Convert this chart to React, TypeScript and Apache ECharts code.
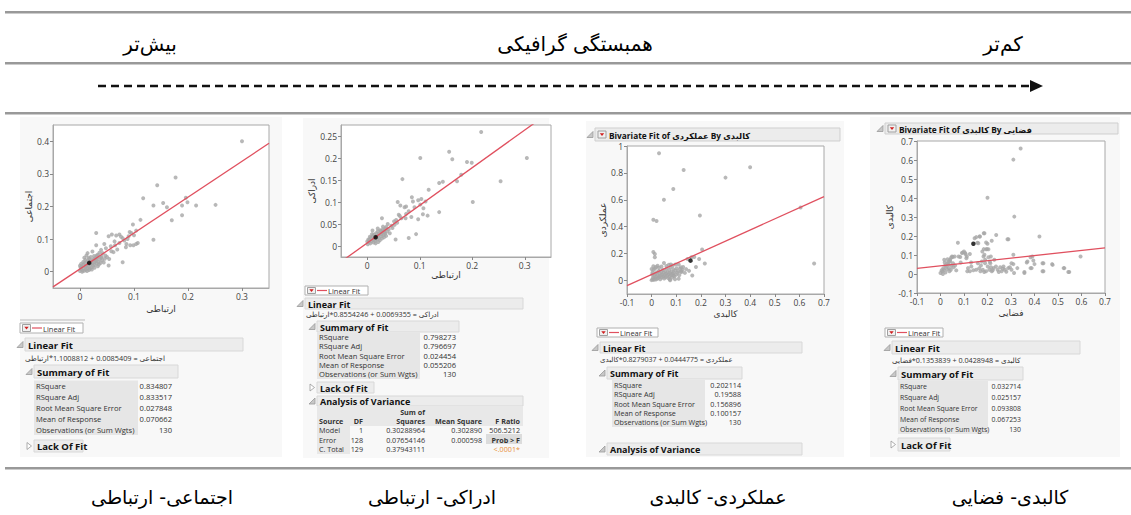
import React, { useEffect, useRef } from "react";
import * as echarts from "echarts";

const headerLabels = ["بیش‌تر", "همبستگی گرافیکی", "کم‌تر"];
const bottomLabels = ["اجتماعی- ارتباطی", "ادراکی- ارتباطی", "عملکردی- کالبدی", "کالبدی- فضایی"];
const xNames = ["ارتباطی", "ارتباطی", "کالبدی", "فضایی"];
const yNames = ["اجتماعی", "ادراکی", "عملکردی", "کالبدی"];
const panelTitles = ["", "", "Bivariate Fit of عملکردی By کالبدی", "Bivariate Fit of کالبدی By فضایی"];
const equations = [
  "اجتماعی = 0.0085409 + 1.1008812*ارتباطی",
  "ادراکی = 0.0069355 + 0.8554246*ارتباطی",
  "عملکردی = 0.0444775 + 0.8279037*کالبدی",
  "کالبدی = 0.0428948 + 0.1353839*فضایی",
];
// intercept, slope
const fits = [
  [0.0085409, 1.1008812],
  [0.0069355, 0.8554246],
  [0.0444775, 0.8279037],
  [0.0428948, 0.1353839],
];
const xRanges = [[-0.05, 0.35], [-0.05, 0.35], [-0.1, 0.7], [-0.1, 0.7]];
const yRanges = [[-0.05, 0.45], [-0.025, 0.275], [-0.1, 1.0], [-0.1, 0.7]];
const xTicks = [
  [0, 0.1, 0.2, 0.3],
  [0, 0.1, 0.2, 0.3],
  [-0.1, 0, 0.1, 0.2, 0.3, 0.4, 0.5, 0.6, 0.7],
  [-0.1, 0, 0.1, 0.2, 0.3, 0.4, 0.5, 0.6, 0.7],
];
const yTicks = [
  [0, 0.1, 0.2, 0.3, 0.4],
  [0, 0.05, 0.1, 0.15, 0.2, 0.25],
  [0, 0.2, 0.4, 0.6, 0.8, 1],
  [-0.1, 0, 0.1, 0.2, 0.3, 0.4, 0.5, 0.6, 0.7],
];

const p1Points = [
  [0.30, 0.40], [0.177, 0.289], [0.143, 0.265], [0.117, 0.225], [0.136, 0.203], [0.154, 0.211], [0.161, 0.198],
  [0.196, 0.227], [0.199, 0.213], [0.189, 0.203], [0.215, 0.203], [0.251, 0.205], [0.189, 0.173], [0.17, 0.158],
  [0.112, 0.159], [0.136, 0.098], [0.098, 0.145], [0.104, 0.126], [0.095, 0.119], [0.09, 0.109], [0.1, 0.112],
  [0.107, 0.088], [0.099, 0.081], [0.104, 0.085], [0.093, 0.081], [0.086, 0.085], [0.079, 0.103], [0.073, 0.114],
  [0.067, 0.111], [0.059, 0.114], [0.053, 0.109], [0.03, 0.119], [0.064, 0.093], [0.073, 0.088], [0.057, 0.078],
  [0.045, 0.085], [0.048, 0.072], [0.039, 0.067], [0.03, 0.081], [0.042, 0.057], [0.033, 0.052], [0.023, 0.062],
  [0.014, 0.057], [0.008, 0.043], [0.017, 0.039], [0.054, 0.039], [0.05, 0.045], [0.079, 0.029], [0.053, 0.019],
  [0.039, 0.043], [0.03, 0.036], [0.062, 0.06], [0.069, 0.068], [0.082, 0.096], [0.088, 0.1], [0.076, 0.107],
  [0.058, 0.063], [0.047, 0.05], [0.036, 0.058], [0.026, 0.048], [0.02, 0.045], [0.012, 0.05], [0.065, 0.081],
  [0.092, 0.122], [0.085, 0.075],
  [0.0, 0.002], [0.002, 0.008], [0.003, 0.016], [0.005, 0.004], [0.006, 0.021], [0.007, 0.011], [0.009, 0.026],
  [0.01, 0.015], [0.011, 0.006], [0.012, 0.019], [0.013, 0.031], [0.014, 0.011], [0.015, 0.024], [0.016, 0.016],
  [0.018, 0.009], [0.019, 0.03], [0.02, 0.022], [0.021, 0.013], [0.022, 0.034], [0.023, 0.026], [0.024, 0.018],
  [0.025, 0.038], [0.026, 0.029], [0.027, 0.021], [0.028, 0.041], [0.029, 0.032], [0.031, 0.025], [0.032, 0.044],
  [0.034, 0.03], [0.036, 0.038], [0.038, 0.027], [0.041, 0.035], [0.001, 0.013], [0.004, 0.0], [0.008, 0.003],
  [0.013, 0.002], [0.017, 0.005], [0.022, 0.007], [0.027, 0.012], [0.033, 0.017], [0.0, 0.018], [0.002, 0.024],
  [0.006, 0.03], [0.01, 0.036], [0.016, 0.042], [0.035, 0.022], [0.044, 0.028], [0.046, 0.04], [0.04, 0.046],
  [0.031, 0.05],
];
const p2Points = [
  [0.217, 0.259], [0.156, 0.214], [0.162, 0.197], [0.101, 0.2], [0.304, 0.2], [0.19, 0.191], [0.199, 0.189],
  [0.179, 0.162], [0.171, 0.147], [0.137, 0.143], [0.144, 0.146], [0.254, 0.147], [0.067, 0.152], [0.117, 0.128],
  [0.201, 0.1], [0.137, 0.077], [0.085, 0.111], [0.103, 0.107], [0.111, 0.101], [0.097, 0.104], [0.087, 0.101],
  [0.058, 0.1], [0.063, 0.092], [0.074, 0.09], [0.071, 0.088], [0.101, 0.094], [0.09, 0.088], [0.107, 0.086],
  [0.079, 0.079], [0.074, 0.073], [0.06, 0.071], [0.106, 0.072], [0.115, 0.069], [0.084, 0.066], [0.073, 0.063],
  [0.097, 0.061], [0.055, 0.059], [0.051, 0.056], [0.028, 0.063], [0.065, 0.063], [0.039, 0.05], [0.046, 0.046],
  [0.036, 0.043], [0.03, 0.038], [0.054, 0.015], [0.079, 0.018], [0.093, 0.027], [0.043, 0.029], [0.01, 0.035],
  [0.057, 0.053], [0.062, 0.068], [0.048, 0.041], [0.041, 0.038], [0.033, 0.031], [0.026, 0.034], [0.052, 0.048],
  [0.001, 0.004], [0.003, 0.009], [0.004, 0.014], [0.006, 0.006], [0.007, 0.018], [0.008, 0.011], [0.01, 0.022],
  [0.011, 0.014], [0.012, 0.008], [0.013, 0.026], [0.014, 0.017], [0.015, 0.012], [0.017, 0.029], [0.018, 0.021],
  [0.019, 0.015], [0.02, 0.033], [0.021, 0.024], [0.022, 0.018], [0.023, 0.028], [0.024, 0.013], [0.025, 0.036],
  [0.026, 0.022], [0.027, 0.027], [0.028, 0.017], [0.029, 0.031], [0.031, 0.025], [0.032, 0.02], [0.033, 0.036],
  [0.034, 0.028], [0.036, 0.023], [0.002, 0.015], [0.005, 0.021], [0.009, 0.027], [0.016, 0.006], [0.021, 0.009],
  [0.0, 0.01], [0.038, 0.033], [0.035, 0.04], [0.03, 0.044], [0.02, 0.04],
];
const p3Points = [
  [0.03, 0.946], [0.13, 0.822], [0.40, 0.842], [0.30, 0.765], [0.088, 0.681], [0.05, 0.6], [0.007, 0.452],
  [0.02, 0.442], [0.196, 0.484], [0.605, 0.543], [0.66, 0.126], [0.007, 0.212], [0.013, 0.198], [0.013, 0.173],
  [0.205, 0.23], [0.216, 0.126], [0.165, 0.037], [0.18, 0.1], [0.193, 0.16], [0.162, 0.173], [0.173, 0.175],
  [0.146, 0.16], [0.05, 0.131], [0.078, 0.119], [0.097, 0.119], [0.119, 0.099], [0.0, 0.086], [0.007, 0.106],
  [0.135, 0.057], [0.121, 0.069], [0.088, 0.037], [0.074, 0.007],
  [0.0, 0.003], [0.004, 0.01], [0.006, 0.022], [0.009, 0.005], [0.011, 0.035], [0.013, 0.016], [0.015, 0.048],
  [0.017, 0.008], [0.019, 0.027], [0.021, 0.06], [0.023, 0.014], [0.025, 0.04], [0.027, 0.02], [0.029, 0.072],
  [0.031, 0.03], [0.033, 0.052], [0.035, 0.01], [0.037, 0.038], [0.039, 0.064], [0.041, 0.022], [0.043, 0.045],
  [0.045, 0.08], [0.047, 0.03], [0.049, 0.058], [0.051, 0.015], [0.053, 0.042], [0.055, 0.07], [0.057, 0.025],
  [0.059, 0.05], [0.061, 0.09], [0.063, 0.035], [0.065, 0.062], [0.067, 0.018], [0.069, 0.046], [0.071, 0.078],
  [0.073, 0.03], [0.075, 0.055], [0.077, 0.098], [0.079, 0.04], [0.081, 0.068], [0.083, 0.022], [0.085, 0.05],
  [0.088, 0.085], [0.09, 0.06], [0.093, 0.032], [0.096, 0.075], [0.099, 0.045], [0.102, 0.092], [0.105, 0.058],
  [0.108, 0.07], [0.112, 0.04], [0.116, 0.088], [0.12, 0.062], [0.125, 0.078], [0.002, 0.045], [0.004, 0.062],
  [0.008, 0.08], [0.014, 0.09], [0.018, 0.1], [0.024, 0.11], [0.03, 0.095], [0.04, 0.105], [0.06, 0.108],
  [0.07, 0.118], [0.085, 0.112], [0.11, 0.12], [0.128, 0.1], [0.14, 0.085], [0.152, 0.072], [0.11, 0.014],
  [0.095, 0.01], [0.075, 0.002],
];
const p4Points = [
  [0.341, 0.66], [0.31, 0.602], [0.2, 0.401], [0.314, 0.302], [0.187, 0.214], [0.237, 0.205], [0.168, 0.197],
  [0.152, 0.194], [0.289, 0.183], [0.421, 0.197], [0.074, 0.165], [0.157, 0.165], [0.218, 0.175], [0.194, 0.13],
  [0.204, 0.13], [0.2, 0.159], [0.183, 0.092], [0.214, 0.092], [0.596, 0.092], [0.31, 0.101], [0.391, 0.092],
  [0.095, 0.113], [0.105, 0.11], [0.112, 0.092], [0.084, 0.089], [0.052, 0.089], [0.03, 0.078], [0.016, 0.075],
  [0.041, 0.066], [0.37, 0.066], [0.395, 0.071], [0.4, 0.052], [0.438, 0.057], [0.477, 0.048], [0.527, 0.031],
  [0.548, 0.01], [0.438, 0.014], [0.388, 0.031], [0.357, 0.01], [0.357, 0.005], [0.313, 0.005], [0.31, 0.052],
  [0, 0.005], [0.008, 0.014], [0.015, 0.022], [0.021, 0.008], [0.025, 0.04], [0.018, 0.061], [0.029, 0.057],
  [0.035, 0.031], [0.041, 0.075], [0.046, 0.043], [0.053, 0.057], [0.049, 0.092], [0.067, 0.019], [0.06, 0.092],
  [0.077, 0.092], [0.086, 0.061], [0.091, 0.11], [0.1, 0.118], [0.107, 0.104], [0.11, 0.083], [0.117, 0.031],
  [0.114, 0.014], [0.125, 0.014], [0.131, 0.04], [0.145, 0.188], [0.152, 0.022], [0.159, 0.057], [0.161, 0.162],
  [0.166, 0.197], [0.17, 0.014], [0.176, 0.066], [0.18, 0.022], [0.184, 0.215], [0.184, 0.131], [0.187, 0.101],
  [0.19, 0.057], [0.194, 0.166], [0.194, 0.014], [0.198, 0.131], [0.201, 0.04], [0.204, 0.088], [0.208, 0.022],
  [0.212, 0.057], [0.218, 0.014], [0.226, 0.031], [0.229, 0.075], [0.243, 0.022], [0.254, 0.036], [0.26, 0.014],
  [0.268, 0.04], [0.274, 0.022], [0.285, 0.183], [0.288, 0.031], [0.302, 0.057], [0.302, 0.022], [0.327, 0.031],
  [0.367, 0.061], [0.383, 0.088], [0.383, 0.031], [0.434, 0.057], [0.434, 0.014], [0.475, 0.052], [0.524, 0.031],
  [0.544, 0.01], [0.005, 0.02], [0.012, 0.03], [0.02, 0.045], [0.028, 0.025], [0.033, 0.05], [0.038, 0.015],
  [0.044, 0.022], [0.055, 0.035], [0.062, 0.045], [0.01, 0.0], [0.035, 0.065], [0.045, 0.085], [0.165, 0.03],
  [0.172, 0.045], [0.186, 0.01], [0.215, 0.035], [0.222, 0.02], [0.236, 0.04], [0.248, 0.01], [0.265, 0.028],
  [0.28, 0.012], [0.295, 0.035], [0.178, 0.118], [0.19, 0.075], [0.21, 0.065], [0.14, 0.02], [0.13, 0.06],
  [0.125, 0.105],
];
const allPoints = [p1Points, p2Points, p3Points, p4Points];
const meanPoints = [[0.017, 0.027], [0.016, 0.02], [0.158, 0.148], [0.14, 0.159]];

const summaryLabels = ["RSquare", "RSquare Adj", "Root Mean Square Error", "Mean of Response", "Observations (or Sum Wgts)"];
const summaryValues = [
  ["0.834807", "0.833517", "0.027848", "0.070662", "130"],
  ["0.798273", "0.796697", "0.024454", "0.055206", "130"],
  ["0.202114", "0.19588", "0.156896", "0.100157", "130"],
  ["0.032714", "0.025157", "0.093808", "0.067253", "130"],
];
const anovaRows = [
  ["Model", "1", "0.30288964", "0.302890", "506.5212"],
  ["Error", "128", "0.07654146", "0.000598", "Prob > F"],
  ["C. Total", "129", "0.37943111", "", "<.0001*"],
];

const FONT = "'Open Sans', 'Noto Sans', 'DejaVu Sans', sans-serif";
const FA = "'DejaVu Sans', sans-serif";

function txt(x: number, y: number, text: string, o: any = {}) {
  const align = o.align || "left";
  return {
    type: "text", x, y, z: 10, silent: true,
    style: {
      text, fill: o.fill || "#333", fontSize: o.size || 8, fontWeight: o.bold ? "bold" : "normal",
      fontFamily: o.family || FONT, textAlign: align, align, textVerticalAlign: "middle", verticalAlign: "middle",
    },
  };
}
function rect(x: number, y: number, w: number, h: number, fill: string, stroke?: string, z = 5) {
  return { type: "rect", z, silent: true, shape: { x, y, width: w, height: h }, style: { fill, stroke: stroke || null, lineWidth: 1 } };
}
function line(x1: number, y1: number, x2: number, y2: number, stroke: string, lw = 1, dash?: number[]) {
  return { type: "line", z: 6, silent: true, shape: { x1, y1, x2, y2 }, style: { stroke, lineWidth: lw, lineDash: dash || null } };
}
function poly(points: number[][], fill: string, stroke?: string) {
  return { type: "polygon", z: 11, silent: true, shape: { points }, style: { fill, stroke: stroke || null, lineWidth: 0.8 } };
}
function dropIcon(x: number, y: number, h: number) {
  return [
    rect(x, y, 8, h, "#f0f0f0", "#a0a0a0", 11),
    poly([[x + 1.8, y + h / 2 - 1.3], [x + 6.2, y + h / 2 - 1.3], [x + 4, y + h / 2 + 1.6]], "#d02020"),
  ];
}
function disclose(x: number, y: number, open: boolean) {
  return open
    ? poly([[x + 5, y - 3], [x + 5, y + 3], [x - 1, y + 3]], "#c8c8c8", "#999")
    : poly([[x, y - 3.5], [x + 4.5, y], [x, y + 3.5]], "#fff", "#999");
}
function legendBox(x: number, y: number, w: number, h: number) {
  return [
    rect(x, y, w, h, "#fff", "#b0b0b0"),
    ...dropIcon(x + 2.5, y + 1.5, h - 3),
    line(x + 12, y + h / 2, x + 22, y + h / 2, "#e0505f", 1.2),
    txt(x + 23, y + h / 2 + 0.5, "Linear Fit", { size: 7.5 }),
  ];
}
function bar(x: number, y: number, w: number, h: number, label: string, size: number, open = true) {
  return [
    rect(x, y, w, h, "#ececec", "#d8d8d8"),
    disclose(x - 7, y + h / 2, open),
    txt(x + 3, y + h / 2 + 0.5, label, { bold: true, size, fill: "#111" }),
  ];
}
function summary(i: number, x: number, rowYs: number[], labelW: number, valueRight: number, size: number, bgTop: number, bgBottom: number) {
  const els: any[] = [rect(x, bgTop, labelW, bgBottom - bgTop, "#e6e6e6")];
  summaryLabels.forEach((l, k) => {
    els.push(txt(x + 2, rowYs[k], l, { size }));
    els.push(txt(valueRight, rowYs[k], summaryValues[i][k], { size, align: "right" }));
  });
  return els;
}

function buildGraphics() {
  const g: any[] = [];
  // panel backgrounds
  g.push(rect(20, 117, 262, 340, "#f8f8f8", undefined, -5));
  g.push(rect(303, 118, 246, 340, "#f8f8f8", undefined, -5));
  g.push(rect(586, 121, 258, 336, "#f8f8f8", undefined, -5));
  g.push(rect(870, 117, 250, 340, "#f8f8f8", undefined, -5));
  // rules
  [12, 63, 113, 468].forEach((y) => {
    g.push(line(5, y, 1131, y, "#333", 1));
    g.push(line(5, y + 1, 1131, y + 1, "#9a9a9a", 1));
  });
  // header labels
  const hx = [150, 575, 1003];
  headerLabels.forEach((t, k) => g.push(txt(hx[k], 44, t, { size: 20, align: "center", family: FA, fill: "#000" })));
  // arrow
  g.push(line(98, 86, 1032, 86, "#111", 2.6, [8, 5]));
  g.push(poly([[1030, 80], [1043, 86], [1030, 92]], "#111"));
  // bottom labels
  const bx = [162, 432, 718, 1010];
  bottomLabels.forEach((t, k) => g.push(txt(bx[k], 497, t, { size: 19, align: "center", family: FA, fill: "#000" })));

  // Panel 1
  g.push(line(20, 320, 85, 320, "#bbb", 1));
  g.push(...legendBox(20, 323, 63, 10));
  g.push(...bar(25, 338, 218, 13, "Linear Fit", 9.5));
  g.push(txt(25, 357.5, equations[0], { size: 7.3 }));
  g.push(...bar(34, 365, 144, 13, "Summary of Fit", 9.5));
  g.push(...summary(0, 34, [386, 397, 408, 418.5, 429.5], 104, 172, 7.6, 380.5, 435));
  g.push(...bar(34, 440, 49, 12, "Lack Of Fit", 9.5, false));

  // Panel 2
  g.push(...legendBox(305, 286, 63, 9));
  g.push(...bar(305, 298, 218, 11, "Linear Fit", 9));
  g.push(txt(306, 314, equations[1], { size: 7.2 }));
  g.push(...bar(317, 321, 142, 11, "Summary of Fit", 9));
  g.push(...summary(1, 317, [337, 346.3, 355.7, 365, 374.3], 103, 456, 7.6, 332.5, 379));
  g.push(...bar(317, 382, 57, 11, "Lack Of Fit", 9, false));
  g.push(...bar(317, 396, 206, 10, "Analysis of Variance", 9));
  g.push(rect(317, 407, 206, 19, "#e8e8e8"));
  g.push(rect(317, 426, 33, 28, "#e8e8e8"));
  g.push(txt(319, 421, "Source", { bold: true, size: 7.2 }));
  g.push(txt(363, 421, "DF", { bold: true, size: 7.2, align: "right" }));
  g.push(txt(425, 412, "Sum of", { bold: true, size: 7.2, align: "right" }));
  g.push(txt(425, 421, "Squares", { bold: true, size: 7.2, align: "right" }));
  g.push(txt(482, 421, "Mean Square", { bold: true, size: 7.2, align: "right" }));
  g.push(txt(520, 421, "F Ratio", { bold: true, size: 7.2, align: "right" }));
  g.push(rect(486, 434, 36, 10, "#dcdcdc"));
  const ay = [430, 439.5, 449];
  const colX = [319, 363, 425, 482, 520];
  anovaRows.forEach((r, k) => {
    r.forEach((c, j) => {
      if (!c) return;
      const isProb = c === "Prob > F";
      const isP = c.startsWith("<");
      g.push(txt(colX[j], ay[k], c, { size: 7.2, align: j === 0 ? "left" : "right", bold: isProb, fill: isP ? "#e8903a" : "#333" }));
    });
  });

  // Panel 3
  g.push(rect(595, 128, 245, 13, "#ececec", "#cfcfcf"));
  g.push(disclose(588, 134.5, true));
  g.push(...dropIcon(598, 131, 7));
  g.push(txt(609, 135, panelTitles[2], { bold: true, size: 8.3, fill: "#111" }));
  g.push(...legendBox(597, 328, 61, 9));
  g.push(...bar(600, 342, 202, 11, "Linear Fit", 9));
  g.push(txt(600, 359, equations[2], { size: 7.0 }));
  g.push(...bar(607, 367, 135, 12, "Summary of Fit", 9));
  g.push(...summary(2, 612, [385, 394.3, 403.6, 413, 422.3], 93, 741, 7.2, 380, 427));
  g.push(...bar(607, 443, 195, 12, "Analysis of Variance", 9));

  // Panel 4
  g.push(rect(885, 123, 233, 11, "#ececec", "#cfcfcf"));
  g.push(disclose(878, 128.5, true));
  g.push(...dropIcon(888, 125, 7));
  g.push(txt(899, 129, panelTitles[3], { bold: true, size: 8.3, fill: "#111" }));
  g.push(...legendBox(885, 328, 58, 9));
  g.push(...bar(892, 341, 188, 13, "Linear Fit", 9.5));
  g.push(txt(892, 360, equations[3], { size: 7.2 }));
  g.push(...bar(898, 367, 125, 13, "Summary of Fit", 9.5));
  g.push(...summary(3, 898, [386, 397, 408, 419, 429.5], 90, 1021, 6.9, 381, 434));
  g.push(...bar(898, 438, 52, 13, "Lack Of Fit", 9.5, false));
  return g;
}

const grids = [
  { left: 53, top: 125, width: 216, height: 163 },
  { left: 341, top: 125, width: 210, height: 132 },
  { left: 627, top: 146, width: 197, height: 148 },
  { left: 917, top: 141, width: 188, height: 152 },
];
const xNameGaps = [16, 13, 15, 15];
const yNameGaps = [19, 24, 19, 22];

export default function App() {
  const ref = useRef<HTMLDivElement>(null);
  useEffect(() => {
    if (!ref.current) return;
    const chart = echarts.init(ref.current, undefined, { renderer: "svg" });
    const axisCommon = (i: number) => ({
      gridIndex: i,
      type: "value",
      splitLine: { show: false },
      axisLine: { show: true, onZero: false, lineStyle: { color: "#a8a8a8" } },
    });
    const option: any = {
      animation: false,
      backgroundColor: "#fff",
      grid: grids.map((g) => ({ ...g, show: true, backgroundColor: "#fff", borderColor: "#a8a8a8", borderWidth: 1 })),
      xAxis: grids.map((_, i) => ({
        ...axisCommon(i),
        min: xRanges[i][0], max: xRanges[i][1],
        axisTick: { show: true, length: 3, lineStyle: { color: "#888" }, customValues: xTicks[i] },
        axisLabel: { fontSize: 8.5, color: "#444", margin: 4, fontFamily: FONT, customValues: xTicks[i] },
        name: xNames[i], nameLocation: "middle", nameGap: xNameGaps[i],
        nameTextStyle: { fontSize: 9, color: "#333", fontFamily: FA },
      })),
      yAxis: grids.map((_, i) => ({
        ...axisCommon(i),
        min: yRanges[i][0], max: yRanges[i][1],
        axisTick: { show: true, length: 3, lineStyle: { color: "#888" }, customValues: yTicks[i] },
        axisLabel: { fontSize: 8.5, color: "#444", margin: 4, fontFamily: FONT, customValues: yTicks[i] },
        name: yNames[i], nameLocation: "middle", nameGap: yNameGaps[i],
        nameTextStyle: { fontSize: 9, color: "#333", fontFamily: FA },
      })),
      series: [
        ...allPoints.map((pts, i) => ({
          type: "scatter", xAxisIndex: i, yAxisIndex: i, data: pts, symbolSize: 4, silent: true,
          itemStyle: { color: "#a6a6a6" }, z: 3,
        })),
        ...meanPoints.map((p, i) => ({
          type: "scatter", xAxisIndex: i, yAxisIndex: i, data: [p], symbolSize: 4.5, silent: true,
          itemStyle: { color: "#000" }, z: 5,
        })),
        ...fits.map((f, i) => ({
          type: "line", xAxisIndex: i, yAxisIndex: i, symbol: "none", silent: true, clip: true, z: 4,
          lineStyle: { color: "#e0505f", width: 1.3 },
          data: [xRanges[i][0], xRanges[i][1]].map((x) => [x, f[0] + f[1] * x]),
        })),
      ],
      graphic: { elements: buildGraphics() },
    };
    chart.setOption(option);
    return () => chart.dispose();
  }, []);
  return <div ref={ref} style={{ position: "absolute", left: 0, top: 0, width: 1131, height: 515 }} />;
}
